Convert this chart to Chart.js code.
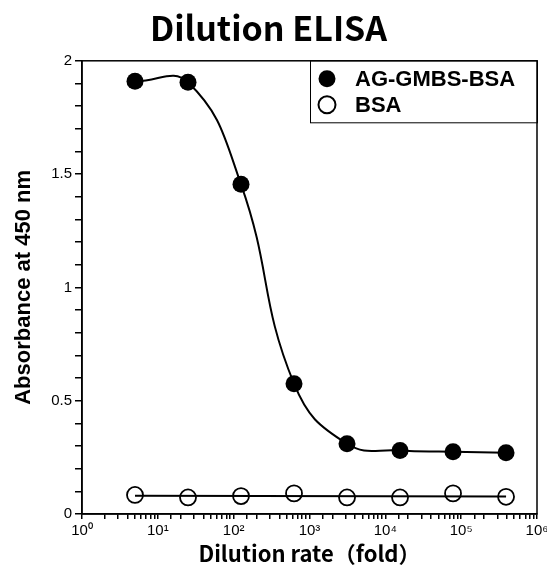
<!DOCTYPE html>
<html>
<head>
<meta charset="utf-8">
<script src="https://cdn.jsdelivr.net/npm/chart.js@4"></script>
<style>
    body { margin: 0; background: #fff; }
    #wrap { width: 547px; height: 569px; }
</style>
</head>
<body>
<div id="wrap"><canvas id="elisaChart" width="547" height="569"></canvas></div>
<script>
// Data
const dilutions = [5, 25, 125, 625, 3125, 15625, 78125, 390625];
const agGmbsBsa = [1.91, 1.905, 1.455, 0.575, 0.31, 0.28, 0.275, 0.27];
const bsa = [0.084, 0.073, 0.079, 0.091, 0.073, 0.073, 0.091, 0.076];
// straight fit line drawn through the BSA points
const bsaFitX = [5, 390625];
const bsaFitY = [0.080, 0.077];
const decadeLabels = ['10⁰', '10¹', '10²', '10³', '10⁴', '10⁵', '10⁶'];
const yLabels = [0, 0.5, 1, 1.5, 2];
const seriesNames = ['AG-GMBS-BSA', 'BSA'];

function toPoints(xs, ys) {
    return xs.map((x, i) => ({ x: x, y: ys[i] }));
}

// Box round the plot area plus the legend in the top right corner
const frameAndLegend = {
    id: 'frameAndLegend',
    afterDraw(chart) {
        const ctx = chart.ctx;
        const a = chart.chartArea;
        ctx.save();
        ctx.strokeStyle = '#000';
        ctx.lineWidth = 1.5;
        ctx.strokeRect(a.left, a.top, a.right - a.left, a.bottom - a.top);

        // legend
        const boxLeft = a.right - 227;
        ctx.lineWidth = 1;
        ctx.strokeRect(boxLeft + 0.5, a.top, a.right - boxLeft, 62);
        ctx.font = 'bold 22px "Liberation Sans", Arial, sans-serif';
        ctx.textBaseline = 'middle';
        ctx.fillStyle = '#000';
        const rows = [a.top + 18, a.top + 44];
        rows.forEach((y, i) => {
            ctx.beginPath();
            ctx.arc(boxLeft + 17, y, 8.5, 0, Math.PI * 2);
            if (i === 0) {
                ctx.fill();
            } else {
                ctx.lineWidth = 2;
                ctx.stroke();
            }
            ctx.fillText(seriesNames[i], boxLeft + 45, y + 1);
        });
        ctx.restore();
    }
};

const ctx = document.getElementById('elisaChart').getContext('2d');
const chart = new Chart(ctx, {
    type: 'scatter',
    data: {
        datasets: [
            {
                label: seriesNames[0],
                data: toPoints(dilutions, agGmbsBsa),
                showLine: true,
                tension: 0.45,
                borderColor: '#000',
                borderWidth: 2,
                backgroundColor: '#000',
                pointRadius: 8.5,
                pointBorderWidth: 0,
                pointBackgroundColor: '#000'
            },
            {
                label: seriesNames[1],
                data: toPoints(dilutions, bsa),
                showLine: false,
                borderColor: '#000',
                pointRadius: 8,
                pointBorderWidth: 1.8,
                pointBackgroundColor: 'rgba(255,255,255,0)'
            },
            {
                label: 'BSA fit',
                data: toPoints(bsaFitX, bsaFitY),
                showLine: true,
                borderColor: '#000',
                borderWidth: 2,
                pointRadius: 0
            }
        ]
    },
    options: {
        responsive: false,
        animation: false,
        layout: {
            padding: { left: 0, right: 10, top: 0, bottom: 0 }
        },
        plugins: {
            legend: { display: false },
            tooltip: { enabled: false },
            title: {
                display: true,
                text: 'Dilution ELISA',
                color: '#000',
                font: { family: '"Noto Sans CJK JP", sans-serif', size: 34, weight: 'bold', lineHeight: 1.2 },
                padding: { top: 8, bottom: 12 }
            }
        },
        scales: {
            x: {
                type: 'logarithmic',
                min: 1,
                max: 1e6,
                afterFit(scale) {
                    scale.height = 55;
                    // keep the last tick label from squeezing the plot
                    scale.paddingRight = 0;
                },
                border: { display: true, color: '#000', width: 1.5 },
                grid: {
                    drawOnChartArea: false,
                    drawTicks: true,
                    tickLength: 5,
                    color: '#000',
                    lineWidth: 1.5
                },
                ticks: {
                    autoSkip: false,
                    maxRotation: 0,
                    color: '#000',
                    padding: 3,
                    font: { family: '"Liberation Sans", sans-serif', size: 15 },
                    callback: function(value) {
                        const e = Math.log10(value);
                        if (Math.abs(e - Math.round(e)) < 1e-9) return decadeLabels[Math.round(e)];
                        return '';
                    }
                },
                title: {
                    display: true,
                    text: 'Dilution rate（fold）',
                    color: '#000',
                    font: { family: '"Noto Sans CJK JP", sans-serif', size: 22, weight: 'bold', lineHeight: 1.2 },
                    padding: { top: 0, bottom: 2 }
                }
            },
            y: {
                min: 0,
                max: 2,
                afterFit(scale) { scale.width = 82; },
                border: { display: true, color: '#000', width: 1.5 },
                grid: {
                    drawOnChartArea: false,
                    drawTicks: true,
                    tickLength: 7,
                    color: '#000',
                    lineWidth: 1.5
                },
                ticks: {
                    stepSize: 0.1,
                    autoSkip: false,
                    color: '#000',
                    padding: 3,
                    font: { family: '"Liberation Sans", sans-serif', size: 15 },
                    callback: function(value) {
                        const hit = yLabels.find(v => Math.abs(v - value) < 1e-6);
                        return hit === undefined ? '' : String(hit);
                    }
                },
                title: {
                    display: true,
                    text: 'Absorbance at 450 nm',
                    color: '#000',
                    font: { family: '"Liberation Sans", Arial, sans-serif', size: 22, weight: 'bold', lineHeight: 1.2 },
                    padding: { top: 11, bottom: 0 }
                }
            }
        }
    },
    plugins: [frameAndLegend]
});
</script>
</body>
</html>
